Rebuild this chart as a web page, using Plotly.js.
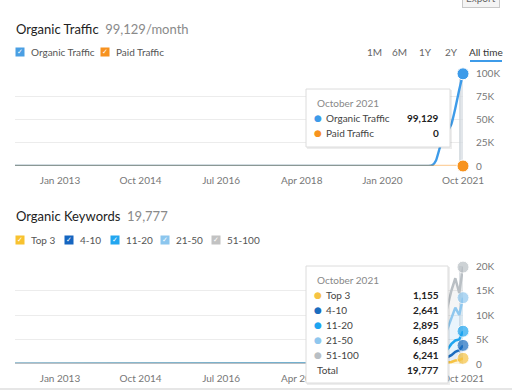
<!DOCTYPE html>
<html>
<head>
<meta charset="utf-8">
<script src="https://cdn.plot.ly/plotly-3.0.1.min.js"></script>
<style>html,body{margin:0;padding:0;background:#fff;}#chart{width:512px;height:391px;}</style>
</head>
<body>
<div id="chart"></div>
<script>
// ---------- DATA ----------
const dates = ['2012-01-01','2013-01-01','2014-01-01','2015-01-01','2016-01-01','2017-01-01','2018-01-01','2019-01-01','2020-01-01','2020-07-01','2020-10-01','2021-01-01','2021-02-01','2021-03-01','2021-04-01','2021-05-01','2021-06-01','2021-07-01','2021-08-01','2021-09-01','2021-10-01'];
const organicTraffic = [0,0,0,0,0,0,0,0,0,0,0,0,1000,6000,20000,30000,37000,45000,62000,82000,99129];
const paidTraffic    = [0,0,0,0,0,0,0,0,0,0,0,0,0,0,0,0,0,0,0,0,0];

const kwTop3   = [0,0,0,0,0,0,0,0,0,0,0,0,20,60,150,250,330,400,700,800,1155];
const kw4_10   = [0,0,0,0,0,0,0,0,0,0,0,0,30,120,400,700,1000,1400,1800,2000,2641];
const kw11_20  = [0,0,0,0,0,0,0,0,0,0,0,0,40,200,700,1200,1700,2300,2300,2200,2895];
const kw21_50  = [0,0,0,0,0,0,0,0,0,0,0,0,80,400,1800,3000,4200,5500,6700,5000,6845];
const kw51_100 = [0,0,0,0,0,0,0,0,0,0,0,0,100,500,2200,3300,4300,5400,6000,4500,6241];

const xTickVals = ['2013-01-01','2014-10-01','2016-07-01','2018-04-01','2020-01-01','2021-10-01'];
const xTickText = ['Jan 2013','Oct 2014','Jul 2016','Apr 2018','Jan 2020','Oct 2021'];
const trafficTickVals = [0,25000,50000,75000,100000];
const trafficTickText = ['0','25K','50K','75K','100K'];
const kwTickVals = [0,5000,10000,15000,20000];
const kwTickText = ['0','5K','10K','15K','20K'];
const trafficMax = 100000;
const kwMax = 20000;

const tooltipDate = 'October 2021';
const trafficNames = ['Organic Traffic','Paid Traffic'];
const kwNames = ['Top 3','4-10','11-20','21-50','51-100'];

// ---------- STYLE ----------
const FONT = 'Lato, Noto Sans, sans-serif';
const cBlue = '#3d9be9', cOrange = '#f7931e';
const kwColors = ['#f6c343','#1b6dbf','#1ea5f0','#8fc7ee','#b9bfc4'];
const kwFills = ['rgba(246,195,67,0.18)','rgba(27,109,191,0.12)','rgba(30,165,240,0.12)','rgba(143,199,238,0.2)','rgba(189,189,189,0.15)'];
const W = 512, H = 391;
const px = x => x / W;
const py = y => 1 - y / H;
const last = dates.length - 1;
const lastDate = dates[last];
const endSizes = dates.map((d,i) => i === last ? 12 : 0);

const traces = [];
// hover highlight bars
traces.push({type:'bar', x:[lastDate], y:[trafficMax], width:[50*86400000], xaxis:'x', yaxis:'y',
  marker:{color:'rgba(214,220,225,0.7)', line:{color:'#c9d0d6', width:1}}, hoverinfo:'skip', showlegend:false});
traces.push({type:'bar', x:[lastDate], y:[kwMax], width:[50*86400000], xaxis:'x2', yaxis:'y2',
  marker:{color:'rgba(225,230,234,0.6)', line:{color:'#cfd5da', width:1}}, hoverinfo:'skip', showlegend:false});

traces.push({type:'scatter', mode:'lines', x:dates, y:organicTraffic, name:trafficNames[0], xaxis:'x', yaxis:'y',
  line:{color:cBlue, width:2.4, shape:'spline', smoothing:0.5}, cliponaxis:false, showlegend:false});
traces.push({type:'scatter', mode:'lines', x:dates, y:paidTraffic, name:trafficNames[1], xaxis:'x', yaxis:'y',
  line:{color:'rgba(247,147,30,0.42)', width:2.4}, cliponaxis:false, showlegend:false});
// end markers (last point of each traffic series)
traces.push({type:'scatter', mode:'markers', x:[lastDate, lastDate], y:[paidTraffic[last], organicTraffic[last]], xaxis:'x', yaxis:'y',
  marker:{size:12, color:[cOrange, cBlue], line:{color:'#fff', width:1}}, cliponaxis:false, showlegend:false, hoverinfo:'skip'});

const kwSeries = [kwTop3, kw4_10, kw11_20, kw21_50, kw51_100];
kwSeries.forEach((s, i) => {
  traces.push({type:'scatter', mode:'lines+markers', x:dates, y:s, name:kwNames[i], xaxis:'x2', yaxis:'y2',
    stackgroup:'kw', fill:'tonexty', fillcolor:kwFills[i],
    line:{color:kwColors[i], width:2.5}, marker:{size:endSizes, color:kwColors[i], line:{color:'#fff', width:1}},
    cliponaxis:false, showlegend:false});
});

const fmt = v => v.toLocaleString('en-US');
const ann = [];
const shapes = [];
function text(x, y, t, opts) {
  ann.push(Object.assign({xref:'paper', yref:'paper', x:px(x), y:py(y), text:t, showarrow:false,
    xanchor:'left', yanchor:'middle', font:{family:FONT, size:10, color:'#555'}}, opts || {}));
}
function checkbox(x, y, color) {
  ann.push({xref:'paper', yref:'paper', x:px(x), y:py(y), text:'✓', showarrow:false, xanchor:'left', yanchor:'middle',
    width:8, height:8, bgcolor:color, borderpad:0, align:'center', valign:'middle',
    font:{family:'DejaVu Sans', size:7, color:'#fff'}});
}

// headings
text(14, 29, 'Organic Traffic  <span style="color:#8a8a8a">' + fmt(organicTraffic[last]) + '/month</span>', {font:{family:FONT, size:13, color:'#222'}});
const kwTotal = kwSeries.reduce((a, s) => a + s[last], 0);
text(14, 216, 'Organic Keywords  <span style="color:#8a8a8a">' + fmt(kwTotal) + '</span>', {font:{family:FONT, size:13, color:'#222'}});

// legends (top)
checkbox(15, 52, '#4a9fe3'); text(29, 52, trafficNames[0]);
checkbox(100, 52, '#f7921f'); text(114, 52, trafficNames[1]);
// legends (bottom)
const kwLegendX = [15, 64, 110, 160, 211];
const kwBoxColors = ['#f8c22f','#1565c0','#22a6f0','#8cc6ee','#c2c2c2'];
kwNames.forEach((n, i) => { checkbox(kwLegendX[i], 240, kwBoxColors[i]); text(kwLegendX[i] + 14, 240, n); });

// time range buttons
const ranges = ['1M','6M','1Y','2Y','All time'];
const rangeX = [374, 399, 425, 451, 486];
ranges.forEach((r, i) => text(rangeX[i], 52, r, {xanchor:'center', font:{family:FONT, size:10, color: i === 4 ? '#333' : '#666'}}));
shapes.push({type:'line', xref:'paper', yref:'paper', x0:px(470), x1:px(502), y0:py(61), y1:py(61), line:{color:cBlue, width:2}});

// export button (cut off at top)
ann.push({xref:'paper', yref:'paper', x:px(481), y:py(-2), text:'Export', showarrow:false, xanchor:'center', yanchor:'middle',
  bgcolor:'#f4f4f4', bordercolor:'#c8c8c8', borderwidth:1, borderpad:3, font:{family:FONT, size:10, color:'#666'}});

// separator
shapes.push({type:'line', xref:'paper', yref:'paper', x0:0, x1:1, y0:py(389), y1:py(389), line:{color:'#dedede', width:1.5}});

// tooltip boxes
function tooltip(x0, y0, x1, y1) {
  shapes.push({type:'rect', xref:'paper', yref:'paper', x0:px(x0+1), x1:px(x1+2), y0:py(y1+2), y1:py(y0+1),
    fillcolor:'rgba(0,0,0,0.07)', line:{width:0}, layer:'above'});
  shapes.push({type:'rect', xref:'paper', yref:'paper', x0:px(x0), x1:px(x1), y0:py(y1), y1:py(y0),
    fillcolor:'#ffffff', line:{color:'#dcdcdc', width:1}, layer:'above'});
}
tooltip(306, 89, 450, 147);
text(315, 103, tooltipDate, {font:{family:FONT, size:10, color:'#888'}});
const tRowsY = [118, 133];
const tVals = [organicTraffic[last], paidTraffic[last]];
const tCols = [cBlue, cOrange];
trafficNames.forEach((n, i) => {
  text(318, tRowsY[i], '●', {xanchor:'center', font:{family:'DejaVu Sans', size:9, color:tCols[i]}});
  text(324, tRowsY[i], n, {font:{family:FONT, size:10, color:'#444'}});
  text(441, tRowsY[i], '<b>' + fmt(tVals[i]) + '</b>', {xanchor:'right', font:{family:FONT, size:10, color:'#222'}});
});

tooltip(306, 266, 448, 383);
text(315, 280, tooltipDate, {font:{family:FONT, size:10, color:'#888'}});
const kRowsY = [295, 310, 325, 340, 355];
kwNames.forEach((n, i) => {
  text(318, kRowsY[i], '●', {xanchor:'center', font:{family:'DejaVu Sans', size:9, color:kwColors[i]}});
  text(324, kRowsY[i], n, {font:{family:FONT, size:10, color:'#444'}});
  text(441, kRowsY[i], '<b>' + fmt(kwSeries[i][last]) + '</b>', {xanchor:'right', font:{family:FONT, size:10, color:'#222'}});
});
text(315, 370, 'Total', {font:{family:FONT, size:10, color:'#444'}});
text(441, 370, '<b>' + fmt(kwTotal) + '</b>', {xanchor:'right', font:{family:FONT, size:10, color:'#222'}});

const xRange = ['2012-01-10', lastDate];
const xCommon = {type:'date', range:xRange, domain:[px(15), px(463)], tickmode:'array', tickvals:xTickVals, ticktext:xTickText,
  showgrid:false, zeroline:false, showline:false, ticks:'', ticklabelstandoff:7,
  tickfont:{family:FONT, size:10, color:'#777'}, fixedrange:true};
const yCommon = {side:'right', tickmode:'array', showgrid:true, gridcolor:'#ececec', gridwidth:1, zeroline:false, ticks:'',
  ticklabelstandoff:12, tickfont:{family:FONT, size:10, color:'#777'}, fixedrange:true};

const layout = {
  width:W, height:H, margin:{l:0, r:0, t:0, b:0}, paper_bgcolor:'#fff', plot_bgcolor:'rgba(0,0,0,0)',
  showlegend:false, bargap:0,
  xaxis:Object.assign({}, xCommon, {anchor:'y'}),
  xaxis2:Object.assign({}, xCommon, {anchor:'y2'}),
  yaxis:Object.assign({}, yCommon, {domain:[py(166), py(73)], range:[0, trafficMax], tickvals:trafficTickVals, ticktext:trafficTickText, anchor:'x'}),
  yaxis2:Object.assign({}, yCommon, {domain:[py(364), py(266)], range:[0, kwMax], tickvals:kwTickVals, ticktext:kwTickText, anchor:'x2'}),
  annotations:ann, shapes:shapes
};
Plotly.newPlot('chart', traces, layout, {displayModeBar:false, staticPlot:true});
</script>
</body>
</html>
